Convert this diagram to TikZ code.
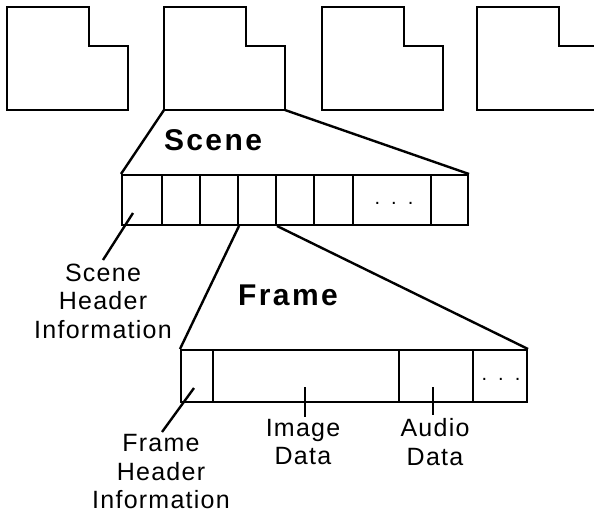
\documentclass[tikz,border=0pt]{standalone}
\usepackage{fontspec}
\setmainfont{Liberation Sans}
\begin{document}
\begin{tikzpicture}[x=1pt,y=-1pt,
  box/.style={draw,line width=2pt,inner sep=0pt,anchor=north west},
  outline/.style={line width=2pt,line join=miter},
  lead/.style={line width=2.4pt},
  lbl/.style={align=center,inner sep=0pt,font=\fontsize{25}{28.5}\selectfont\addfontfeatures{LetterSpace=5}},
  ttl/.style={inner sep=0pt,font=\fontsize{30}{34}\selectfont\bfseries\addfontfeatures{LetterSpace=8}},
  dots/.style={inner sep=0pt,anchor=base,font=\fontsize{20}{20}\selectfont}
]
\clip (0,0) rectangle (594,517);
% top L-shaped pictures
\foreach \i/\l in {1/7,2/164,3/322,4/477}{
  \coordinate (L\i) at (\l,7);
  \draw[outline] (L\i) -- ++(82,0) -- ++(0,39) -- ++(39,0) -- ++(0,64) -- ++(-121,0) -- cycle;
}
\coordinate (L2bl) at (164,110);
\coordinate (L2br) at (285,110);
% scene bar
\foreach \i/\a/\b in {1/121/161,2/161/199,3/199/237,4/237/275,5/275/313,6/313/352,7/352/430,8/430/467}{
  \node[box,minimum width={\b-\a},minimum height=50] (sc\i) at (\a,174) {};
}
\node[dots] (scdots) at (394,204) {.\hspace{11pt}.\hspace{11pt}.};
% frame bar
\foreach \i/\a/\b in {1/180/212,2/212/398,3/398/472,4/472/526}{
  \node[box,minimum width={\b-\a},minimum height=52] (fr\i) at (\a,349) {};
}
\node[dots] (frdots) at (501,380) {.\hspace{11pt}.\hspace{11pt}.};
% titles
\node[ttl] (scene) at (213,140) {Scene};
\node[ttl] (frame) at (288,295) {Frame};
% zoom connectors
\draw[lead] (L2bl) -- (sc1.north west);
\draw[lead] (L2br) -- (sc8.north east);
\draw[lead] (sc3.south east) -- (fr1.north west);
\draw[lead] (sc4.south east) -- (fr4.north east);
% labels
\node[lbl] (shi) at (103,301) {Scene\\Header\\Information};
\node[lbl] (fhi) at (161,472) {Frame\\Header\\Information};
\node[lbl] (imd) at (303,442) {Image\\Data};
\node[lbl] (aud) at (435,442) {Audio\\Data};
% leaders
\coordinate (shs) at (133,213);
\coordinate (she) at (103,260);
\draw[lead] (shs) -- (she);
\coordinate (fhs) at (194,388);
\coordinate (fhe) at (162,432);
\draw[lead] (fhs) -- (fhe);
\coordinate (ims) at (305,387);
\coordinate (ime) at (305,417);
\draw[lead] (ims) -- (ime);
\coordinate (aus) at (433,387);
\coordinate (aue) at (433,415);
\draw[lead] (aus) -- (aue);
\end{tikzpicture}
\end{document}
